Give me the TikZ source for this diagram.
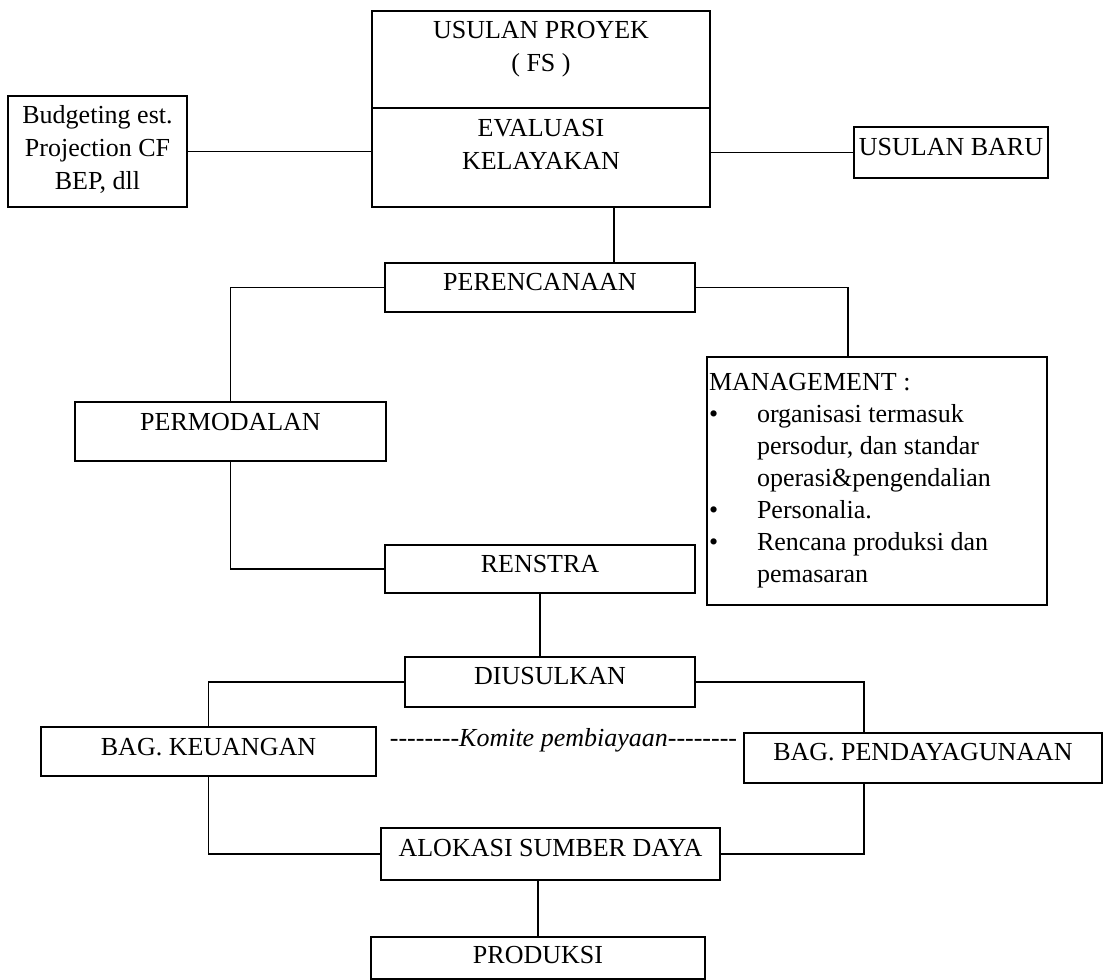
\documentclass[tikz,border=0pt]{standalone}
\usepackage{fontspec}
\setmainfont{Liberation Serif}
\usepackage{tikz}

\newcommand{\komdash}{\mbox{-}\mbox{-}\mbox{-}\mbox{-}\mbox{-}\mbox{-}\mbox{-}\mbox{-}}
\newcommand{\mgitem}{\makebox[24pt][l]{\textbullet}}

\begin{document}
\begin{tikzpicture}[x=0.5pt, y=-0.5pt, line width=0.6pt,
  every node/.style={inner sep=0pt, font=\fontsize{13}{16.5}\selectfont, align=center},
  box/.style={draw, line width=0.8pt}]
  \useasboundingbox (0,0) rectangle (1104,980);
  \node[box, minimum width=169pt, minimum height=48.5pt, text depth=13.5pt] (prop) at (541,59.5) {USULAN PROYEK\\( FS )};
  \node[box, minimum width=169pt, minimum height=49.5pt, text depth=13.5pt] (eval) at (541,157.5) {EVALUASI\\KELAYAKAN};
  \node[box, minimum width=89.5pt, minimum height=55.5pt, text depth=4pt] (bud) at (97.5,151.5) {Budgeting est.\\Projection CF\\BEP, dll};
  \node[box, minimum width=97pt, minimum height=25.5pt, text depth=5.5pt] (baru) at (951,152.5) {USULAN BARU};
  \node[box, minimum width=155pt, minimum height=24.5pt, text depth=5.5pt] (plan) at (540,287.5) {PERENCANAAN};
  \node[box, minimum width=155.5pt, minimum height=29.5pt, text depth=9.5pt] (perm) at (230.5,431.5) {PERMODALAN};
  \node[box, minimum width=170pt, minimum height=124pt, align=left,
    font=\fontsize{13}{16}\selectfont] (mgmt) at (877,481) {\makebox[168pt][l]{MANAGEMENT :}\\
    \mgitem organisasi termasuk\\
    \hspace*{24pt}persodur, dan standar\\
    \hspace*{24pt}operasi\&pengendalian\\
    \mgitem Personalia.\\
    \mgitem Rencana produksi dan\\
    \hspace*{24pt}pemasaran};
  \node[box, minimum width=155pt, minimum height=24pt, text depth=5pt] (rens) at (540,569) {RENSTRA};
  \node[box, minimum width=145pt, minimum height=25pt, text depth=6pt] (dius) at (550,682) {DIUSULKAN};
  \node[box, minimum width=167.5pt, minimum height=24.5pt, text depth=4.5pt] (keu) at (208.5,751.5) {BAG. KEUANGAN};
  \node[box, minimum width=179pt, minimum height=25pt, text depth=6pt] (pend) at (923,758) {BAG. PENDAYAGUNAAN};
  \node[box, minimum width=169.5pt, minimum height=26pt, text depth=6pt] (alok) at (550.5,854) {ALOKASI SUMBER DAYA};
  \node[box, minimum width=167pt, minimum height=21pt, text depth=3pt] (prod) at (538,958) {PRODUKSI};
  \node (komite) at (563.5,740) {\itshape\komdash Komite pembiayaan\komdash};
  \draw (bud.east) -- (bud.east -| eval.west);
  \draw (baru.west) -- (baru.west -| eval.east);
  \draw ([xshift=36.5pt]eval.south) -- ([xshift=36.5pt]eval.south |- plan.north);
  \draw (plan.west) -| (perm.north);
  \draw (perm.south) |- (rens.west);
  \draw (plan.east) -| ([xshift=-14.5pt]mgmt.north);
  \draw (rens.south) -- (rens.south |- dius.north);
  \draw (dius.west) -| (keu.north);
  \draw (dius.east) -| ([xshift=-29.5pt]pend.north);
  \draw (keu.south) |- (alok.west);
  \draw ([xshift=-29.5pt]pend.south) |- (alok.east);
  \draw (prod.north) -- (prod.north |- alok.south);
\end{tikzpicture}
\end{document}
